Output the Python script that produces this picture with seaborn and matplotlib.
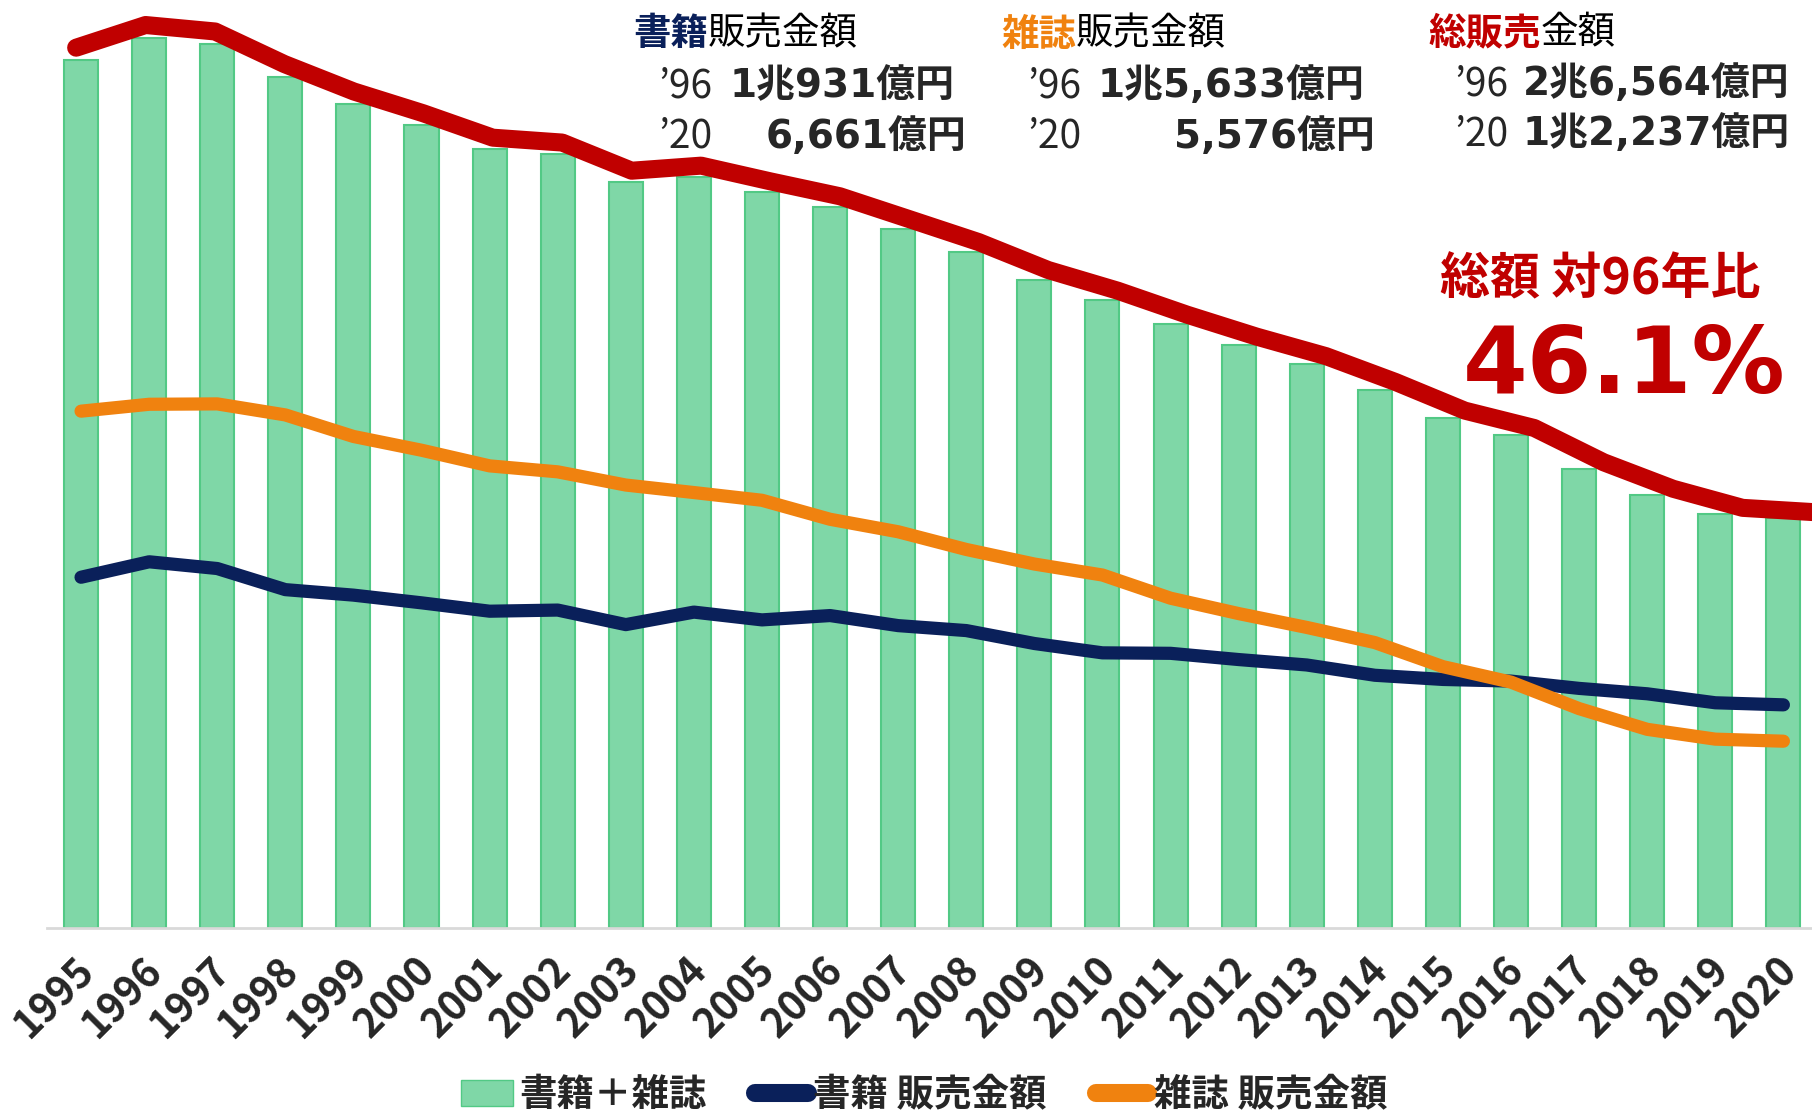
import numpy as np
import pandas as pd
import matplotlib
matplotlib.use("Agg")
import matplotlib.pyplot as plt
import matplotlib.transforms as mtransforms
import seaborn as sns
from matplotlib.patches import Patch
from matplotlib.lines import Line2D

years = [str(y) for y in range(1995, 2021)]
# 販売金額 (億円)
books = [10470, 10931, 10730, 10100, 9936, 9706, 9456, 9490, 9056, 9429, 9197, 9326, 9026,
         8878, 8492, 8213, 8199, 8013, 7851, 7544, 7419, 7370, 7152, 6991, 6723, 6661]
magazines = [15427, 15633, 15644, 15315, 14672, 14261, 13794, 13616, 13222, 12998, 12767, 12200, 11827,
             11299, 10864, 10536, 9844, 9385, 8972, 8520, 7801, 7339, 6548, 5930, 5637, 5576]
total = [25897, 26564, 26374, 25415, 24608, 23967, 23250, 23106, 22278, 22427, 21964, 21526, 20853,
         20177, 19356, 18749, 18043, 17398, 16823, 16064, 15220, 14709, 13700, 12921, 12360, 12237]

GREEN = "#7FD7A7"
GREEN_EDGE = "#52C985"
NAVY = "#0A205A"
ORANGE = "#F0820F"
RED = "#C00000"

sns.set_theme(style="white")
plt.rcParams["font.family"] = ["Noto Sans CJK JP", "DejaVu Sans"]
NUMFONT = ["DejaVu Sans", "Noto Sans CJK JP"]

df = pd.DataFrame({"year": years, "pos": np.arange(len(years)), "books": books,
                   "magazines": magazines, "total": total})

W, H = 1812, 1112
fig = plt.figure(figsize=(W / 100, H / 100), dpi=100)
rect = [47 / W, 1 - 928 / H, 1 - 47 / W, 928 / H]
ax = fig.add_axes(rect)

sns.barplot(data=df, x="pos", y="total", width=0.5, color=GREEN, saturation=1,
            edgecolor=GREEN_EDGE, linewidth=1.5, ax=ax)
sns.lineplot(data=df, x="pos", y="books", color=NAVY, linewidth=9.5, ax=ax)
sns.lineplot(data=df, x="pos", y="magazines", color=ORANGE, linewidth=9.5, ax=ax)

ax.set_xlim(-0.5, 25.42)
ax.set_ylim(0, 27700)
ax.set_xticks(np.arange(len(years)))
ax.set_xticklabels(years, rotation=45, ha="right", rotation_mode="anchor",
                   fontsize=29, fontweight="bold")
ax.tick_params(axis="x", length=0, pad=16)
shift = mtransforms.ScaledTranslation(-7 / 100, 0, fig.dpi_scale_trans)
for lab in ax.get_xticklabels():
    lab.set_transform(lab.get_transform() + shift)
ax.set_yticks([])
ax.set_xlabel("")
ax.set_ylabel("")
for s in ["top", "right", "left"]:
    ax.spines[s].set_visible(False)
ax.spines["bottom"].set_color("#D9D9D9")
ax.spines["bottom"].set_linewidth(2)

# 総販売金額 line (drawn slightly wider than the bars)
ax2 = fig.add_axes(rect)
ax2.patch.set_alpha(0)
sns.lineplot(data=df, x="pos", y="total", color=RED, linewidth=13, ax=ax2)
ax2.set_xlim(-0.42, 25.0)
ax2.set_ylim(0, 27300)
ax2.axis("off")


def fx(x):
    return x / W


def fy(y):
    return 1 - y / H


def mixed(x, y, parts, size):
    prev = fig.text(fx(x), fy(y), parts[0][0], color=parts[0][1], fontweight=parts[0][2],
                    fontsize=size, ha="left", va="center")
    for s, c, w in parts[1:]:
        prev = ax.annotate(s, xy=(1, 0), xycoords=prev, color=c, fontweight=w,
                           fontsize=size, ha="left", va="bottom", annotation_clip=False)


TS = 27
NS = 28
QS = 28
# 書籍
mixed(633, 34, [("書籍", NAVY, "bold"), ("販売金額", "black", "normal")], TS)
fig.text(fx(658), fy(86), "’96", fontsize=QS, ha="left", va="center")
fig.text(fx(730), fy(86), "1兆931億円", fontsize=NS, fontweight="bold", family=NUMFONT,
         ha="left", va="center")
fig.text(fx(658), fy(137), "’20", fontsize=QS, ha="left", va="center")
fig.text(fx(966), fy(137), "6,661億円", fontsize=NS, fontweight="bold", family=NUMFONT,
         ha="right", va="center")
# 雑誌
mixed(1001, 34, [("雑誌", ORANGE, "bold"), ("販売金額", "black", "normal")], TS)
fig.text(fx(1027), fy(86), "’96", fontsize=QS, ha="left", va="center")
fig.text(fx(1098), fy(86), "1兆5,633億円", fontsize=NS, fontweight="bold", family=NUMFONT,
         ha="left", va="center")
fig.text(fx(1027), fy(137), "’20", fontsize=QS, ha="left", va="center")
fig.text(fx(1375), fy(137), "5,576億円", fontsize=NS, fontweight="bold", family=NUMFONT,
         ha="right", va="center")
# 総販売
mixed(1428, 33, [("総販売", RED, "bold"), ("金額", "black", "normal")], TS)
fig.text(fx(1454), fy(84), "’96", fontsize=QS, ha="left", va="center")
fig.text(fx(1523), fy(84), "2兆6,564億円", fontsize=NS, fontweight="bold", family=NUMFONT,
         ha="left", va="center")
fig.text(fx(1454), fy(134), "’20", fontsize=QS, ha="left", va="center")
fig.text(fx(1523), fy(134), "1兆2,237億円", fontsize=NS, fontweight="bold", family=NUMFONT,
         ha="left", va="center")

fig.text(fx(1600), fy(280), "総額 対96年比", color=RED, fontsize=36, fontweight="bold",
         ha="center", va="center")
fig.text(fx(1624), fy(367), "46.1%", color=RED, fontsize=67, fontweight="bold", family=NUMFONT,
         ha="center", va="center")

handles = [Patch(facecolor=GREEN, edgecolor=GREEN_EDGE, label="書籍＋雑誌"),
           Line2D([], [], color=NAVY, linewidth=13, solid_capstyle="round", label="書籍 販売金額"),
           Line2D([], [], color=ORANGE, linewidth=13, solid_capstyle="round", label="雑誌 販売金額")]
fig.legend(handles=handles, loc="center", bbox_to_anchor=(0.51, 0.0155), ncol=3, frameon=False,
           prop={"size": 27, "weight": "bold"}, handlelength=1.4, handletextpad=0.15,
           columnspacing=1.3, borderaxespad=0)

fig.savefig("out.png", dpi=100)
